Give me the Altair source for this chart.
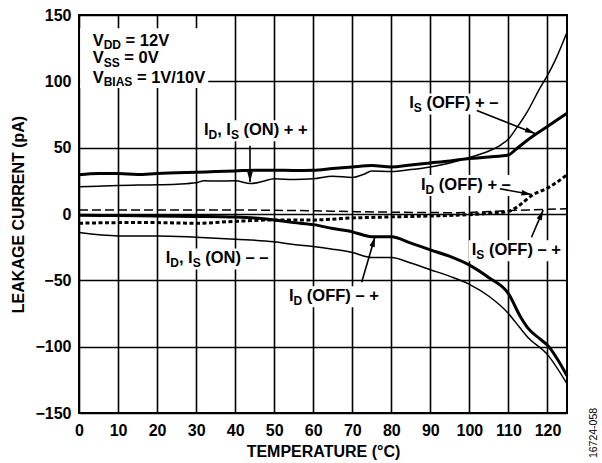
import math
import altair as alt
import pandas as pd

# ---- measured leakage currents (pA) versus temperature (°C) ----
t_is_off_pm = [0, 5, 10, 15, 20, 25, 30, 35, 40, 45, 50, 55, 60, 65, 70, 75, 80, 85, 90, 95, 100, 105, 110, 112, 115, 120, 125]
i_is_off_pm = [29.5, 30.5, 30.5, 29.8, 30.5, 31, 31.5, 32, 32.5, 33, 33, 32.8, 33, 34.3, 35.5, 36.5, 35.5, 37, 38.5, 40, 41.8, 43, 44.5, 49, 56, 66, 76]

t_on_pp = [0, 5, 10, 15, 20, 25, 30, 32, 35, 40, 44, 47, 50, 55, 60, 65, 70, 73, 75, 80, 85, 90, 95, 100, 105, 108, 110, 112, 115, 118, 120, 122, 125]
i_on_pp = [20.5, 21, 21.5, 21.8, 22, 22.5, 23.5, 25, 24.8, 25, 23, 24.5, 26.5, 26, 26.5, 28.5, 27.5, 30, 32.5, 32, 33.5, 35.5, 38.5, 42.5, 47.5, 52, 56.5, 64.5, 78, 94.5, 104.5, 116, 137]

t_id_off_pm = [0, 10, 20, 30, 40, 50, 60, 70, 80, 90, 100, 105, 110, 113, 116, 120, 125]
i_id_off_pm = [-7, -6.5, -6.5, -7, -5.5, -4.5, -4.5, -3, -2.2, -1.5, -0.5, 0.5, 2, 7, 14, 19.5, 29.5]

t_is_off_mp = [0, 20, 40, 50, 60, 70, 80, 90, 95, 100, 105, 110, 115, 120, 125]
i_is_off_mp = [3, 3, 3, 2.8, 2.4, 1.8, 1.4, 1.1, 1.0, 1.2, 1.8, 2.6, 3, 3.5, 4]

t_id_off_mp = [0, 10, 20, 30, 40, 45, 50, 55, 60, 65, 70, 73, 75, 80, 85, 90, 95, 100, 105, 110, 113, 115, 118, 120, 125]
i_id_off_mp = [-1, -1.2, -1.5, -1.8, -2.3, -3, -4.5, -6.5, -8, -11, -13.5, -16, -17.2, -17.2, -22, -27, -32, -38.5, -48, -60, -77, -86, -94, -99, -122]

t_on_mm = [0, 10, 20, 30, 40, 50, 55, 60, 65, 70, 75, 80, 85, 90, 95, 100, 105, 110, 113, 115, 120, 125]
i_on_mm = [-14, -16.5, -16.5, -17.5, -19, -21, -23, -24.5, -26.5, -29, -32.8, -32.8, -37, -42, -47, -53, -62, -75, -86, -93, -106, -128]

# ---- plot geometry ----
W_PLOT, H_PLOT = 488, 398
X_DOM, Y_DOM = [0, 125], [-150, 150]
PX_X = W_PLOT / (X_DOM[1] - X_DOM[0])
PX_Y = H_PLOT / (Y_DOM[1] - Y_DOM[0])

FONT = "Liberation Sans, Arial, Helvetica, sans-serif"
MAIN_SIZE = 16.5
SUB_SIZE = 12

# Arial/Liberation Sans Bold advance widths (1/1000 em)
ADV = {'I': 278, 'D': 722, 'S': 667, ',': 278, ' ': 278, '(': 333, 'O': 778, 'N': 722,
       'F': 611, ')': 333, '+': 584, '–': 556, 'V': 667, '=': 584, '0': 556, '1': 556,
       '2': 556, '/': 278, 'B': 722, 'A': 722}


def text_width(s, size):
    return sum(ADV.get(c, 600) for c in s) * size / 1000.0


# ---- series table ----
series = [
    ("is_off_pm", t_is_off_pm, i_is_off_pm),
    ("on_pp", t_on_pp, i_on_pp),
    ("id_off_pm", t_id_off_pm, i_id_off_pm),
    ("is_off_mp", t_is_off_mp, i_is_off_mp),
    ("id_off_mp", t_id_off_mp, i_id_off_mp),
    ("on_mm", t_on_mm, i_on_mm),
]
rows = []
for name, ts, vs in series:
    for t, v in zip(ts, vs):
        rows.append({"series": name, "t": t, "i": v})
df = pd.DataFrame(rows)

styles = {
    "is_off_pm": dict(strokeWidth=3),
    "on_pp": dict(strokeWidth=1.5),
    "id_off_pm": dict(strokeWidth=3, strokeDash=[4, 2.5]),
    "is_off_mp": dict(strokeWidth=1.5, strokeDash=[9, 4]),
    "id_off_mp": dict(strokeWidth=3),
    "on_mm": dict(strokeWidth=1.5),
}

xscale = alt.Scale(domain=X_DOM, nice=False, zero=False)
yscale = alt.Scale(domain=Y_DOM, nice=False, zero=False)

x_axis = alt.Axis(
    values=list(range(0, 121, 10)), title="TEMPERATURE (°C)",
    grid=True, gridColor="#000000", gridWidth=1.6, gridOpacity=1,
    ticks=False, domain=False,
    labelFont=FONT, labelFontSize=16, labelFontWeight="bold", labelColor="black",
    labelPadding=9, labelFlush=False,
    titleFont=FONT, titleFontSize=16, titleFontWeight="bold", titleColor="black",
    titlePadding=5,
)
y_axis = alt.Axis(
    values=list(range(-150, 151, 50)), title="LEAKAGE CURRENT (pA)",
    grid=True, gridColor="#000000", gridWidth=1.6, gridOpacity=1,
    ticks=False, domain=False,
    labelFont=FONT, labelFontSize=16, labelFontWeight="bold", labelColor="black",
    labelPadding=8, labelFlush=False,
    titleFont=FONT, titleFontSize=16, titleFontWeight="bold", titleColor="black",
    titlePadding=8,
)

# axes/grid carrier layer
base = alt.Chart(df).mark_line(opacity=0).encode(
    x=alt.X("t:Q", scale=xscale, axis=x_axis),
    y=alt.Y("i:Q", scale=yscale, axis=y_axis),
    detail="series:N",
)

# ---- annotation labels (start x, baseline y in data units) ----
labels = [
    ("vdd", 3.5, 126.8, [("V", 0), ("DD", 1), (" = 12V", 0)]),
    ("vss", 3.5, 113.5, [("V", 0), ("SS", 1), (" = 0V", 0)]),
    ("vbias", 3.5, 98.9, [("V", 0), ("BIAS", 1), (" = 1V/10V", 0)]),
    ("on_pp", 32.0, 59.4, [("I", 0), ("D", 1), (", I", 0), ("S", 1), (" (ON) + +", 0)]),
    ("is_off_pm", 84.6, 79.6, [("I", 0), ("S", 1), (" (OFF) + –", 0)]),
    ("id_off_pm", 87.6, 18.0, [("I", 0), ("D", 1), (" (OFF) + –", 0)]),
    ("is_off_mp", 100.6, -31.1, [("I", 0), ("S", 1), (" (OFF) – +", 0)]),
    ("on_mm", 22.2, -37.3, [("I", 0), ("D", 1), (", I", 0), ("S", 1), (" (ON) – –", 0)]),
    ("id_off_mp", 53.8, -65.8, [("I", 0), ("D", 1), (" (OFF) – +", 0)]),
]

pieces, boxes = [], []
for key, x0, y0, parts in labels:
    off = 0.0
    for txt, sub in parts:
        size = SUB_SIZE if sub else MAIN_SIZE
        # text marks drop leading blanks, so advance past them here
        lead = len(txt) - len(txt.lstrip(" "))
        off += text_width(" " * lead, size)
        body = txt.lstrip(" ")
        pieces.append({
            "x": x0 + off / PX_X,
            "y": y0 - (3.5 / PX_Y if sub else 0.0),
            "txt": body, "size": size,
        })
        off += text_width(body, size)
    if not key.startswith("v"):
        boxes.append({
            "x": x0 - 3 / PX_X, "x2": x0 + (off + 3) / PX_X,
            "y": y0 - 6 / PX_Y, "y2": y0 + 15 / PX_Y,
        })

# supply conditions block gets one shared box
vbias_w = text_width("V", MAIN_SIZE) + text_width("BIAS", SUB_SIZE) + text_width(" = 1V/10V", MAIN_SIZE)
boxes.append({"x": 0.3, "x2": 3.5 + (vbias_w + 3) / PX_X, "y": 95.0, "y2": 140.0})

box_df = pd.DataFrame(boxes)
piece_df = pd.DataFrame(pieces)

box_layer = alt.Chart(box_df).mark_rect(color="white").encode(
    x=alt.X("x:Q", scale=xscale), x2="x2:Q",
    y=alt.Y("y:Q", scale=yscale), y2="y2:Q",
)

line_layers = []
for name, _, _ in series:
    line_layers.append(
        alt.Chart(df).transform_filter(alt.datum.series == name)
        .mark_line(color="black", interpolate="monotone", **styles[name])
        .encode(x=alt.X("t:Q", scale=xscale), y=alt.Y("i:Q", scale=yscale))
    )

text_layer = alt.Chart(piece_df).mark_text(
    align="left", baseline="alphabetic", font=FONT, fontWeight="bold", color="black"
).encode(
    x=alt.X("x:Q", scale=xscale),
    y=alt.Y("y:Q", scale=yscale),
    text="txt:N",
    size=alt.Size("size:Q", scale=None, legend=None),
)

# ---- pointer arrows (tail -> tip, data units) ----
arrows = [
    (43.8, 51.5, 43.8, 24.2),
    (101.9, 78.0, 116.8, 60.7),
    (107.8, 19.0, 115.9, 14.7),
    (115.9, -17.5, 118.9, 2.9),
    (72.4, -51.5, 75.8, -17.3),
]
arrow_rows = []
for xa, ya, xb, yb in arrows:
    dxp = (xb - xa) * PX_X
    dyp = -(yb - ya) * PX_Y
    ang = math.degrees(math.atan2(dxp, -dyp)) % 360
    arrow_rows.append({"xa": xa, "ya": ya, "xb": xb, "yb": yb, "ang": ang})
arrow_df = pd.DataFrame(arrow_rows)

shaft = alt.Chart(arrow_df).mark_rule(color="black", strokeWidth=1.6).encode(
    x=alt.X("xa:Q", scale=xscale), y=alt.Y("ya:Q", scale=yscale),
    x2="xb:Q", y2="yb:Q",
)
head = alt.Chart(arrow_df).mark_point(
    shape="M0,0 L0.55,2 L-0.55,2 Z", filled=True, color="black", opacity=1, size=100,
    strokeWidth=0,
).encode(
    x=alt.X("xb:Q", scale=xscale), y=alt.Y("yb:Q", scale=yscale),
    angle=alt.Angle("ang:Q", scale=None),
)

code_df = pd.DataFrame({"code": ["16724-058"]})
code_layer = alt.Chart(code_df).mark_text(
    angle=270, font=FONT, fontSize=10.5, color="black", align="center", baseline="middle"
).encode(x=alt.value(515), y=alt.value(418), text="code:N")

chart = alt.layer(
    base, box_layer, *line_layers, text_layer, shaft, head, code_layer
).properties(
    width=W_PLOT, height=H_PLOT,
    autosize=alt.AutoSizeParams(type="none"),
    padding={"left": 79, "top": 15, "right": 35, "bottom": 50},
    background="white",
).configure_axis(
    gridColor="#000000", gridOpacity=1, gridWidth=1.6
).configure_view(
    stroke="black", strokeWidth=2
)

chart.save("out.html", embed_options={"renderer": "svg", "actions": False})
